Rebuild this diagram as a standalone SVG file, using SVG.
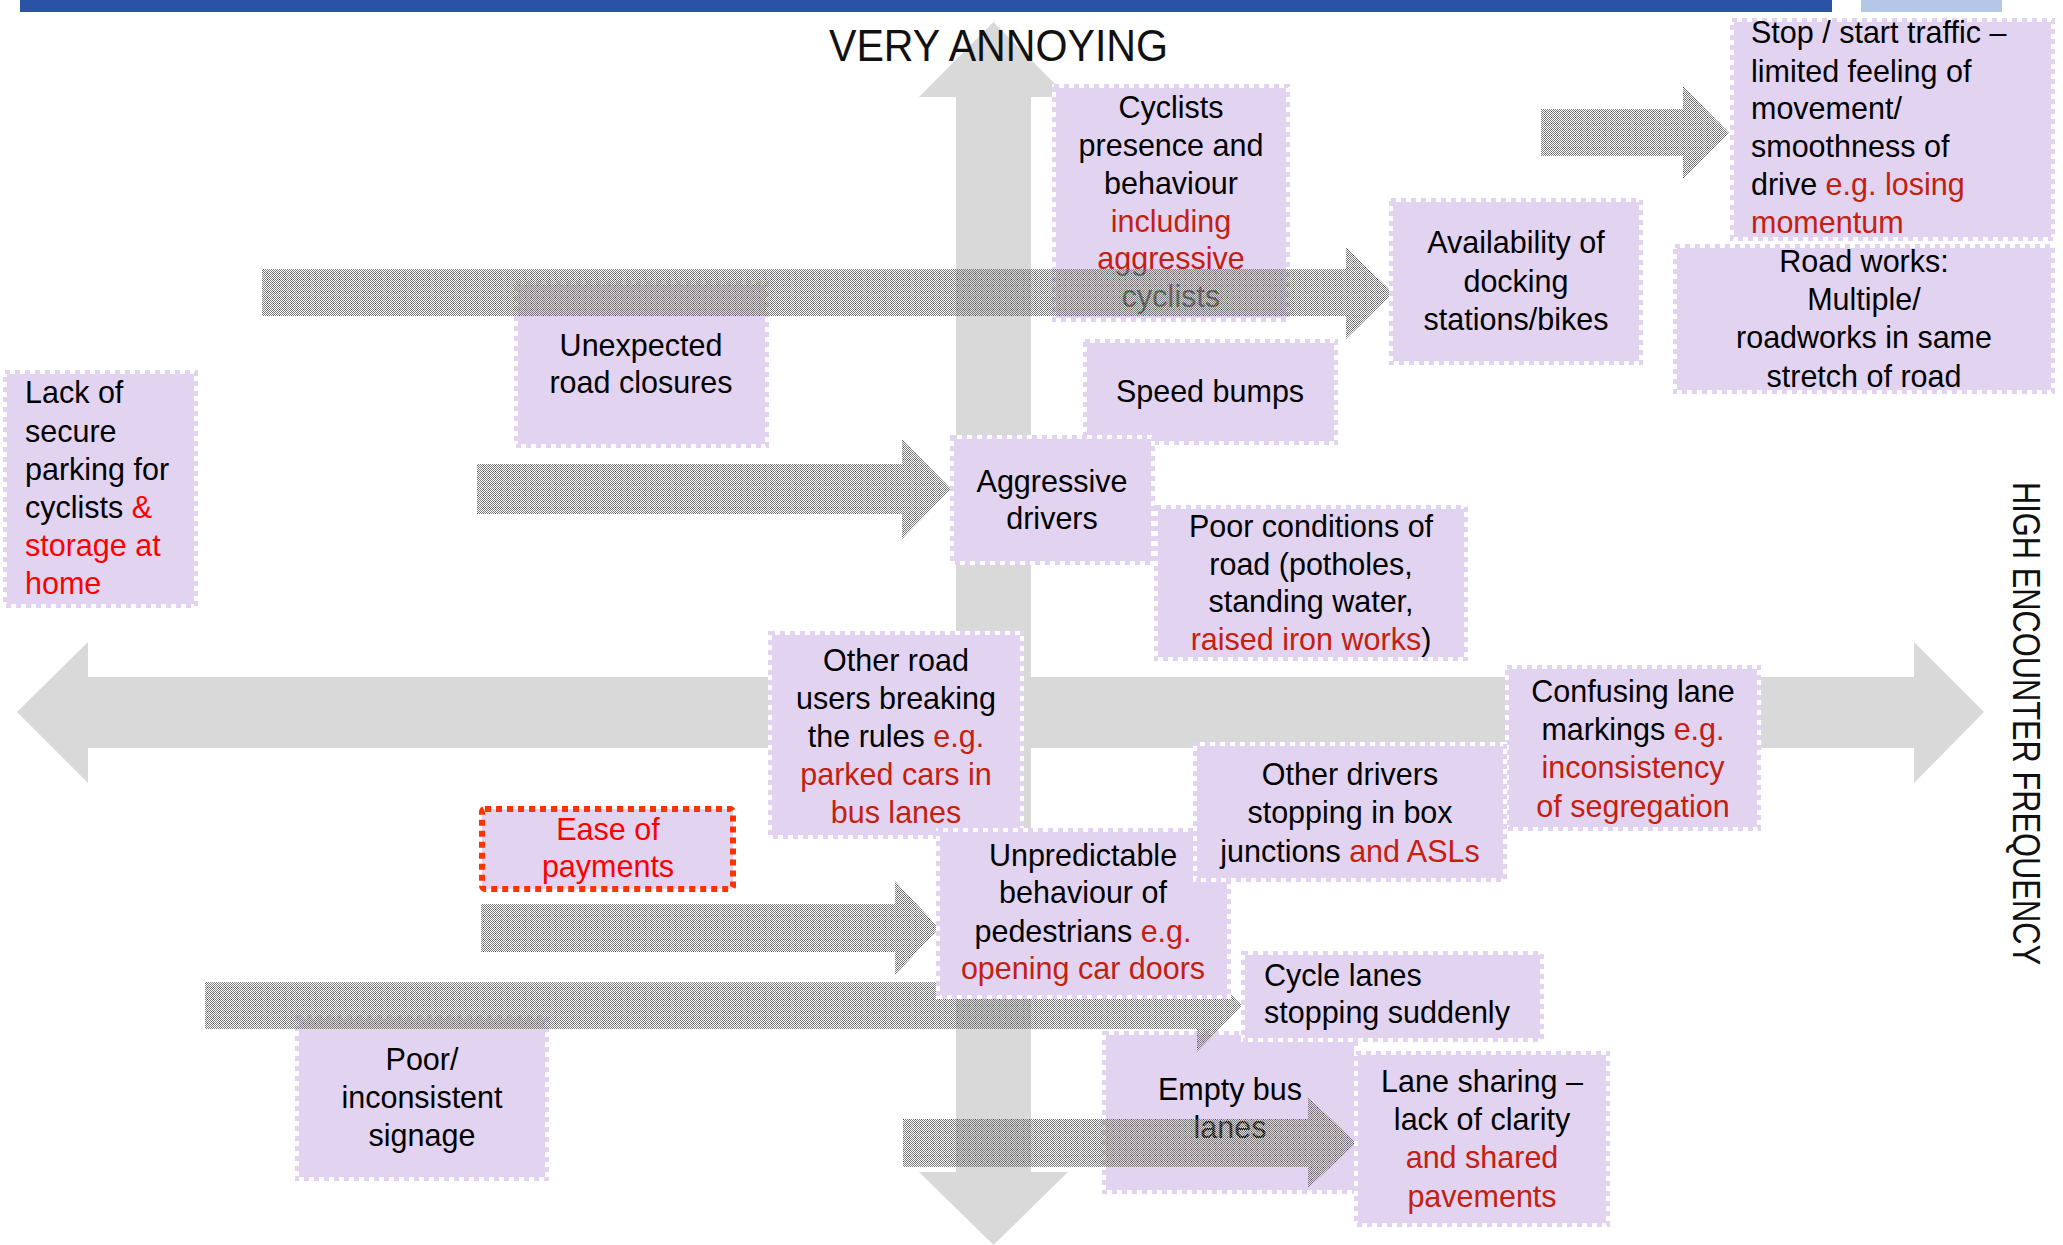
<svg xmlns="http://www.w3.org/2000/svg" width="2063" height="1245" viewBox="0 0 2063 1245">
<style>
.bw{fill:#e2d3f1;stroke:#ffffff;stroke-width:4}
.bd{fill:none;stroke:#e2d3f1;stroke-width:4;stroke-dasharray:5 5}
.t{font-family:"Liberation Sans",Arial,sans-serif;font-size:30.5px;fill:#000}
.c{text-anchor:middle}
.r{fill:#c42010}
.rr{fill:#ff0000}
.axis{fill:#d9d9d9}
.pat{fill:url(#dots)}
</style>
<defs>
<pattern id="dots" width="6" height="6" patternUnits="userSpaceOnUse">
<path fill="#7a7a7a" d="M0 0h1v1h-1zM2 0h1v1h-1zM4 0h1v1h-1zM1 1h1v1h-1zM3 1h1v1h-1zM5 1h1v1h-1zM0 2h1v1h-1zM2 2h1v1h-1zM4 2h1v1h-1zM1 3h1v1h-1zM5 3h1v1h-1zM0 4h1v1h-1zM2 4h1v1h-1zM4 4h1v1h-1zM1 5h1v1h-1zM3 5h1v1h-1zM5 5h1v1h-1z"/>
<rect x="3" y="3" width="1" height="1" fill="#444"/>
</pattern>
</defs>
<rect x="0" y="0" width="2063" height="1245" fill="#ffffff"/>
<rect x="20" y="0" width="1812" height="12" fill="#2a53a5"/>
<rect x="1861" y="0" width="141" height="12" fill="#b4c7e7"/>

<g id="axes">
<polygon class="axis" points="17,712 88,642 88,677 1914,677 1914,642 1984,712 1914,783 1914,748 88,748 88,783"/>
<polygon class="axis" points="993.5,22 1068,97 1031,97 1031,1172 1068,1172 993.5,1245 919,1172 956,1172 956,97 919,97"/>
</g>

<g id="n-cyclists">
<rect class="bw" x="1054" y="86" width="234" height="234"/><rect class="bd" x="1054" y="86" width="234" height="234"/>
<text class="t c" x="1171" y="118">Cyclists</text>
<text class="t c" x="1171" y="156">presence and</text>
<text class="t c" x="1171" y="194">behaviour</text>
<text class="t c r" x="1171" y="232">including</text>
<text class="t c r" x="1171" y="269">aggressive</text>
<text class="t c r" x="1171" y="307">cyclists</text>
</g>
<g id="n-closures">
<rect class="bw" x="516" y="283" width="251" height="163"/><rect class="bd" x="516" y="283" width="251" height="163"/>
<text class="t c" x="641" y="356">Unexpected</text>
<text class="t c" x="641" y="393">road closures</text>
</g>
<g id="n-emptybus">
<rect class="bw" x="1104" y="1033" width="252" height="159"/><rect class="bd" x="1104" y="1033" width="252" height="159"/>
<text class="t c" x="1230" y="1100">Empty bus</text>
<text class="t c" x="1230" y="1138">lanes</text>
</g>
<g id="n-signage">
<rect class="bw" x="297" y="1017" width="250" height="162"/><rect class="bd" x="297" y="1017" width="250" height="162"/>
<text class="t c" x="422" y="1070">Poor/</text>
<text class="t c" x="422" y="1108">inconsistent</text>
<text class="t c" x="422" y="1146">signage</text>
</g>

<g id="connectors">
<polygon class="pat" points="262,269 1346,269 1346,247 1393,293 1346,339 1346,316 262,316"/>
<polygon class="pat" points="1541,109 1683,109 1683,86 1729,133 1683,179 1683,156 1541,156"/>
<polygon class="pat" points="477,464 902,464 902,439 951,489 902,539 902,514 477,514"/>
<polygon class="pat" points="481,904 895,904 895,881 939,928 895,975 895,952 481,952"/>
<polygon class="pat" points="205,982 1197,982 1197,959 1242,1005.5 1197,1052 1197,1029 205,1029"/>
<polygon class="pat" points="903,1119 1308,1119 1308,1097 1356,1143 1308,1188 1308,1167 903,1167"/>
</g>

<g id="n-docking">
<rect class="bw" x="1391" y="200" width="250" height="163"/><rect class="bd" x="1391" y="200" width="250" height="163"/>
<text class="t c" x="1516" y="253">Availability of</text>
<text class="t c" x="1516" y="292">docking</text>
<text class="t c" x="1516" y="330">stations/bikes</text>
</g>
<g id="n-stopstart">
<rect class="bw" x="1732" y="20" width="321" height="219"/><rect class="bd" x="1732" y="20" width="321" height="219"/>
<text class="t" x="1751" y="43">Stop / start traffic –</text>
<text class="t" x="1751" y="82">limited feeling of</text>
<text class="t" x="1751" y="119">movement/</text>
<text class="t" x="1751" y="157">smoothness of</text>
<text class="t" x="1751" y="195">drive <tspan class="r">e.g. losing</tspan></text>
<text class="t r" x="1751" y="233">momentum</text>
</g>
<g id="n-roadworks">
<rect class="bw" x="1675" y="246" width="378" height="146"/><rect class="bd" x="1675" y="246" width="378" height="146"/>
<text class="t c" x="1864" y="272">Road works:</text>
<text class="t c" x="1864" y="310">Multiple/</text>
<text class="t c" x="1864" y="348">roadworks in same</text>
<text class="t c" x="1864" y="387">stretch of road</text>
</g>
<g id="n-speedbumps">
<rect class="bw" x="1085" y="341" width="251" height="102"/><rect class="bd" x="1085" y="341" width="251" height="102"/>
<text class="t c" x="1210" y="402">Speed bumps</text>
</g>
<g id="n-parking">
<rect class="bw" x="5" y="372" width="191" height="234"/><rect class="bd" x="5" y="372" width="191" height="234"/>
<text class="t" x="25" y="403">Lack of</text>
<text class="t" x="25" y="442">secure</text>
<text class="t" x="25" y="480">parking for</text>
<text class="t" x="25" y="518">cyclists <tspan class="rr">&amp;</tspan></text>
<text class="t rr" x="25" y="556">storage at</text>
<text class="t rr" x="25" y="594">home</text>
</g>
<g id="n-aggressive">
<rect class="bw" x="952" y="437" width="201" height="126"/><rect class="bd" x="952" y="437" width="201" height="126"/>
<text class="t c" x="1052" y="492">Aggressive</text>
<text class="t c" x="1052" y="529">drivers</text>
</g>
<g id="n-conditions">
<rect class="bw" x="1156" y="507" width="310" height="152"/><rect class="bd" x="1156" y="507" width="310" height="152"/>
<text class="t c" x="1311" y="537">Poor conditions of</text>
<text class="t c" x="1311" y="575">road (potholes,</text>
<text class="t c" x="1311" y="612">standing water,</text>
<text class="t c" x="1311" y="650"><tspan class="r">raised iron works</tspan>)</text>
</g>
<g id="n-rules">
<rect class="bw" x="770" y="633" width="252" height="204"/><rect class="bd" x="770" y="633" width="252" height="204"/>
<text class="t c" x="896" y="671">Other road</text>
<text class="t c" x="896" y="709">users breaking</text>
<text class="t c" x="896" y="747">the rules <tspan class="r">e.g.</tspan></text>
<text class="t c r" x="896" y="785">parked cars in</text>
<text class="t c r" x="896" y="823">bus lanes</text>
</g>
<g id="n-markings">
<rect class="bw" x="1507" y="667" width="252" height="162"/><rect class="bd" x="1507" y="667" width="252" height="162"/>
<text class="t c" x="1633" y="702">Confusing lane</text>
<text class="t c" x="1633" y="740">markings <tspan class="r">e.g.</tspan></text>
<text class="t c r" x="1633" y="778">inconsistency</text>
<text class="t c r" x="1633" y="817">of segregation</text>
</g>
<g id="n-payments">
<rect x="482" y="809" width="251" height="80" rx="3" fill="#e2d3f1" stroke="#ff3300" stroke-width="6" stroke-dasharray="6 5"/>
<text class="t c rr" x="608" y="840">Ease of</text>
<text class="t c rr" x="608" y="877">payments</text>
</g>
<g id="n-pedestrians">
<rect class="bw" x="938" y="830" width="291" height="167"/><rect class="bd" x="938" y="830" width="291" height="167"/>
<text class="t c" x="1083" y="866">Unpredictable</text>
<text class="t c" x="1083" y="903">behaviour of</text>
<text class="t c" x="1083" y="942">pedestrians <tspan class="r">e.g.</tspan></text>
<text class="t c r" x="1083" y="979">opening car doors</text>
</g>
<g id="n-boxjunctions">
<rect class="bw" x="1195" y="744" width="310" height="136"/><rect class="bd" x="1195" y="744" width="310" height="136"/>
<text class="t c" x="1350" y="785">Other drivers</text>
<text class="t c" x="1350" y="823">stopping in box</text>
<text class="t c" x="1350" y="862">junctions <tspan class="r">and ASLs</tspan></text>
</g>
<g id="n-cyclelanes">
<rect class="bw" x="1243" y="953" width="299" height="87"/><rect class="bd" x="1243" y="953" width="299" height="87"/>
<text class="t" x="1264" y="986">Cycle lanes</text>
<text class="t" x="1264" y="1023">stopping suddenly</text>
</g>
<g id="n-lanesharing">
<rect class="bw" x="1356" y="1053" width="252" height="172"/><rect class="bd" x="1356" y="1053" width="252" height="172"/>
<text class="t c" x="1482" y="1092">Lane sharing –</text>
<text class="t c" x="1482" y="1130">lack of clarity</text>
<text class="t c r" x="1482" y="1168">and shared</text>
<text class="t c r" x="1482" y="1207">pavements</text>
</g>

<g id="labels">
<text x="829" y="61" font-family="Liberation Sans, Arial, sans-serif" font-size="44" fill="#111" textLength="339" lengthAdjust="spacingAndGlyphs">VERY ANNOYING</text>
<text transform="translate(2013,482) rotate(90)" x="0" y="0" font-family="Liberation Sans, Arial, sans-serif" font-size="38" fill="#111" textLength="483" lengthAdjust="spacingAndGlyphs">HIGH ENCOUNTER FREQUENCY</text>
</g>
</svg>
